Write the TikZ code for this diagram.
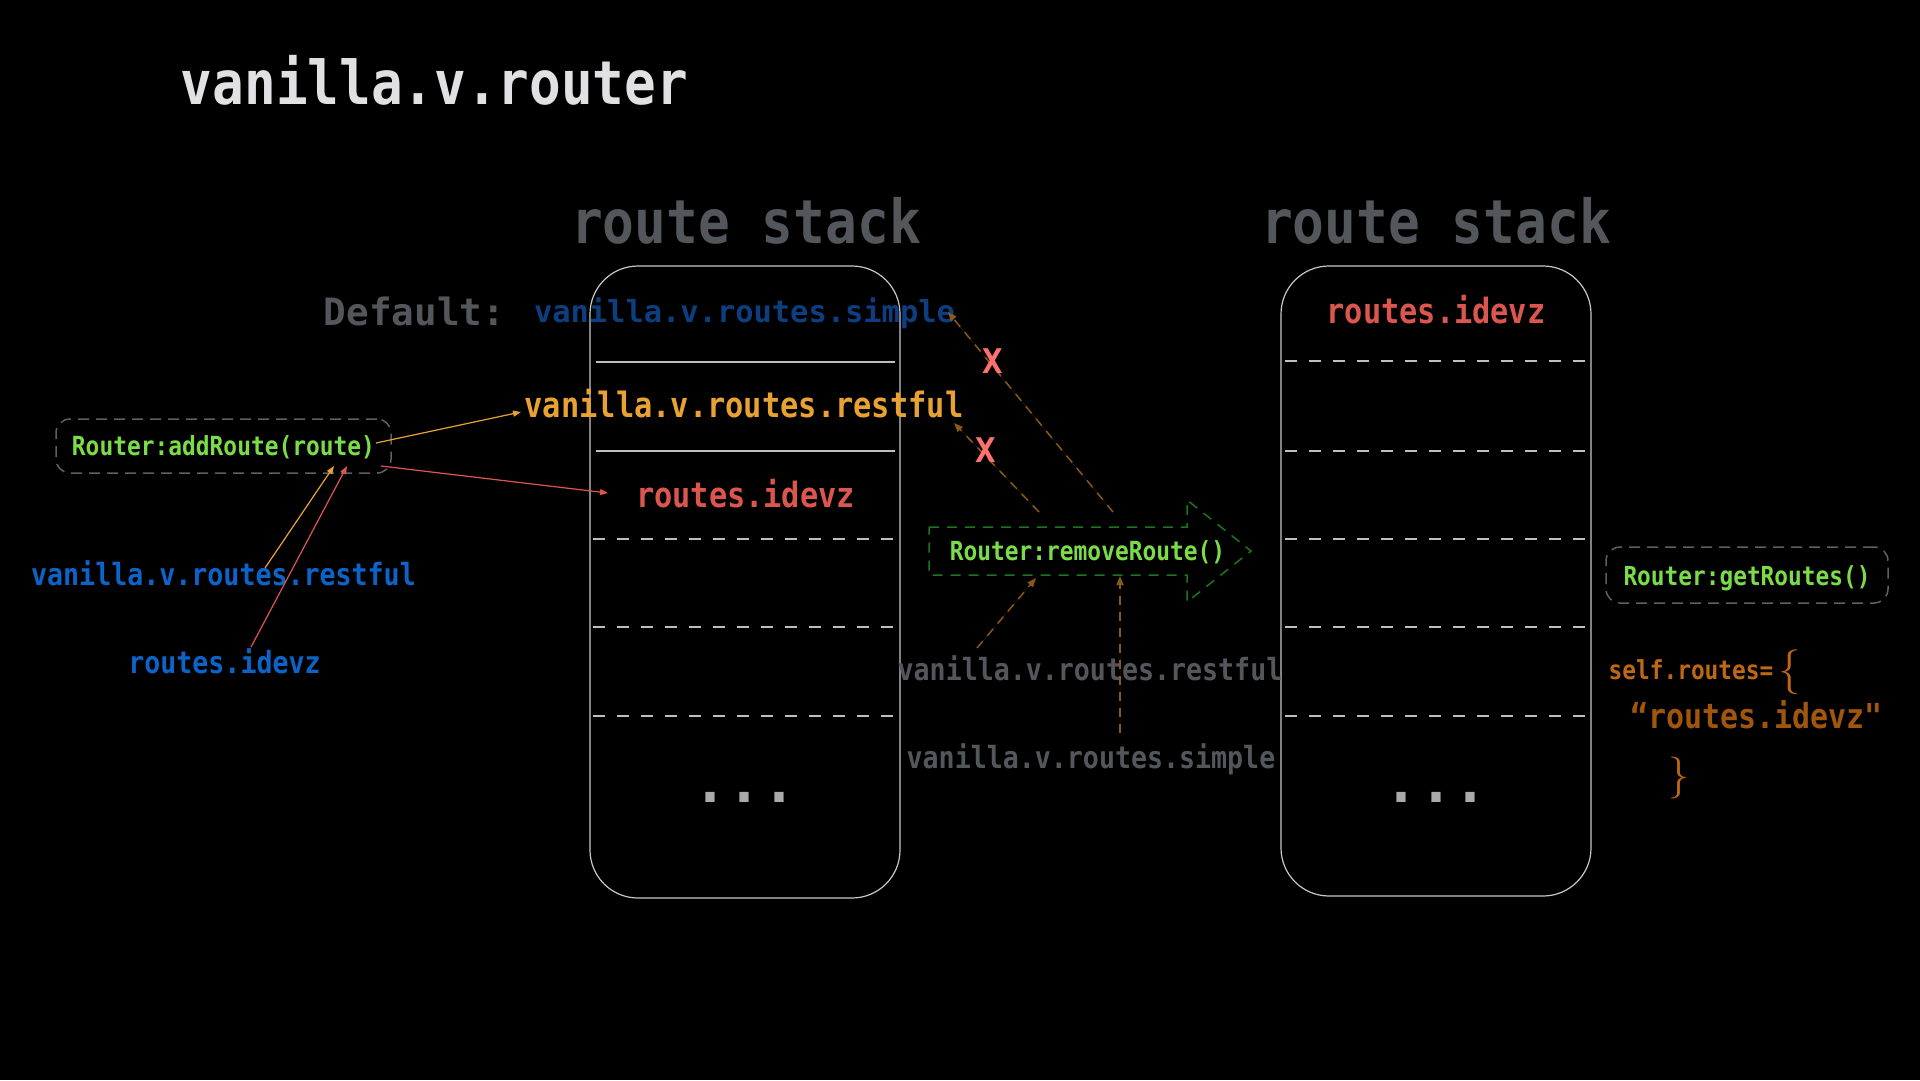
\documentclass[tikz,border=0pt]{standalone}
\usepackage{fontspec}
\setmonofont{DejaVu Sans Mono}
\newfontfamily\monoS[FakeStretch=0.87]{DejaVu Sans Mono}
\usetikzlibrary{arrows.meta}
\definecolor{titlec}{RGB}{225,225,228}
\definecolor{grayt}{RGB}{83,86,91}
\definecolor{dblue}{RGB}{12,62,128}
\definecolor{lblue}{RGB}{12,100,200}
\definecolor{orng}{RGB}{232,162,52}
\definecolor{redt}{RGB}{220,86,80}
\definecolor{grn}{RGB}{122,220,72}
\definecolor{dgrn}{RGB}{28,118,32}
\definecolor{brwn}{RGB}{140,88,24}
\definecolor{selfc}{RGB}{190,104,22}
\definecolor{quotec}{RGB}{160,86,12}
\definecolor{xred}{RGB}{255,112,112}
\definecolor{boxc}{RGB}{200,200,200}
\definecolor{sepc}{RGB}{190,190,190}
\definecolor{dboxc}{RGB}{95,95,100}
\definecolor{dotc}{RGB}{170,170,170}
\newcommand\fsz[1]{\monoS\bfseries\fontsize{#1}{#1}\selectfont}
\newcommand\fsn[1]{\ttfamily\bfseries\fontsize{#1}{#1}\selectfont}
\tikzset{
  lbl/.style={inner sep=0pt, anchor=base, text=#1},
  stackbox/.style={draw=boxc, line width=1.2pt, rounded corners=48pt, minimum width=310pt, inner sep=0pt},
  methbox/.style={draw=dboxc, dashed, dash pattern=on 11pt off 7pt, line width=1.5pt, rounded corners=14pt, inner sep=0pt},
  solidsep/.style={draw=sepc, line width=2pt},
  dashsep/.style={draw=sepc, line width=2pt, dash pattern=on 12pt off 12pt},
  thinarrow/.style={line width=1.2pt, -{Triangle[length=8pt,width=6pt]}},
  brarrow/.style={draw=brwn, line width=1.5pt, dash pattern=on 9pt off 7pt, -{Triangle[length=9pt,width=7pt]}},
}
\begin{document}
\begin{tikzpicture}[x=1pt,y=-1pt]
\fill[black] (0,0) rectangle (1920,1080);
\useasboundingbox (0,0) rectangle (1920,1080);

% title
\node[lbl=titlec, font=\fsz{60.5}] (title) at (434.5,104) {vanilla.v.router};

% stack headers
\node[lbl=grayt, font=\fsz{60.7}] (lhead) at (746,243) {route stack};
\node[lbl=grayt, font=\fsz{60.7}] (rhead) at (1436,243) {route stack};

% stacks
\node[stackbox, minimum height=632pt] (lstack) at (745,582) {};
\node[stackbox, minimum height=630pt] (rstack) at (1436,581) {};

% left stack content
\node[lbl=grayt, font=\fsn{37.6}] (deflt) at (414.5,325) {Default:};
\node[lbl=dblue, font=\fsn{30.4}] (lsimple) at (744.5,322) {vanilla.v.routes.simple};
\node[lbl=orng, font=\fsz{34.9}] (lrest) at (744,417) {vanilla.v.routes.restful};
\node[lbl=redt, font=\fsz{34.8}] (lidevz) at (745.5,507) {routes.idevz};
\coordinate (ls1a) at (596,362); \coordinate (ls1b) at (895,362);
\coordinate (ls2a) at (596,451); \coordinate (ls2b) at (895,451);
\draw[solidsep] (ls1a) -- (ls1b);
\draw[solidsep] (ls2a) -- (ls2b);
\foreach \yy/\nm in {539/a,627/b,716/c}{
  \coordinate (ld\nm1) at (593,\yy); \coordinate (ld\nm2) at (895,\yy);
  \draw[dashsep] (ld\nm1) -- (ld\nm2);
}
\node[lbl=dotc, font=\fsn{56.5}] (ldots) at (745,802) {...};

% right stack content
\node[lbl=redt, font=\fsz{34.8}] (ridevz) at (1436,323) {routes.idevz};
\foreach \yy/\nm in {361/a,451/b,539/c,627/d,716/e}{
  \coordinate (rd\nm1) at (1285,\yy); \coordinate (rd\nm2) at (1587,\yy);
  \draw[dashsep] (rd\nm1) -- (rd\nm2);
}
\node[lbl=dotc, font=\fsn{56.5}] (rdots) at (1436,802) {...};

% addRoute
\node[methbox, minimum width=335pt, minimum height=54pt] (addbox) at (223.5,446) {};
\node[lbl=grn, font=\fsz{26.3}] (addtxt) at (223.5,455) {Router:addRoute(route)};
\node[lbl=lblue, font=\fsz{30.6}] (brest) at (223.5,585) {vanilla.v.routes.restful};
\node[lbl=lblue, font=\fsz{30.6}] (bidevz) at (224.5,673) {routes.idevz};

\coordinate (a1s) at (376,443); \coordinate (a1e) at (521,412);
\coordinate (a2s) at (381,466); \coordinate (a2e) at (608,493);
\coordinate (a3s) at (265,568); \coordinate (a3e) at (334,466);
\coordinate (a4s) at (251,647); \coordinate (a4e) at (347,466);
\draw[thinarrow, draw=orng, fill=orng] (a1s) -- (a1e);
\draw[thinarrow, draw=redt, fill=redt] (a2s) -- (a2e);
\draw[thinarrow, draw=orng, fill=orng] (a3s) -- (a3e);
\draw[thinarrow, draw=redt, fill=redt] (a4s) -- (a4e);

% removeRoute
\draw[draw=dgrn, line width=1.5pt, dash pattern=on 10pt off 8pt]
  (929,527) -- (1187,527) -- (1187,500) -- (1251,551) -- (1187,602) -- (1187,575) -- (929,575) -- cycle;
\node[lbl=grn, font=\fsz{26.3}] (remtxt) at (1087.5,560) {Router:removeRoute()};
\node[lbl=grayt, font=\fsz{30.6}] (grest) at (1090,680) {vanilla.v.routes.restful};
\node[lbl=grayt, font=\fsz{30.6}] (gsimple) at (1091,768) {vanilla.v.routes.simple};

\coordinate (b1s) at (1113,512); \coordinate (b1e) at (948,312);
\coordinate (b2s) at (1039,512); \coordinate (b2e) at (954,423);
\coordinate (b3s) at (977,648); \coordinate (b3e) at (1036,578);
\coordinate (b4s) at (1120,733); \coordinate (b4e) at (1120,576);
\draw[brarrow, fill=brwn] (b1s) -- (b1e);
\draw[brarrow, fill=brwn] (b2s) -- (b2e);
\draw[brarrow, fill=brwn] (b3s) -- (b3e);
\draw[brarrow, fill=brwn] (b4s) -- (b4e);

\node[lbl=xred, font=\fsn{34}] (x1) at (993,373) {X};
\node[lbl=xred, font=\fsn{34}] (x2) at (986,462) {X};

% getRoutes
\node[methbox, minimum width=282pt, minimum height=56pt] (getbox) at (1747,575) {};
\node[lbl=grn, font=\fsz{26.2}] (gettxt) at (1747,585) {Router:getRoutes()};
\node[lbl=selfc, font=\fsz{26.2}] (selfr) at (1691,679) {self.routes=};
\node[lbl=selfc, font=\rmfamily\fontsize{45}{45}\selectfont] (lbrace) at (1790,683) {\{};
\node[lbl=quotec, font=\fsz{34.4}] (quot) at (1756.5,728) {“routes.idevz"};
\node[lbl=selfc, font=\rmfamily\fontsize{42}{42}\selectfont] (rbrace) at (1679,788) {\}};
\end{tikzpicture}
\end{document}
